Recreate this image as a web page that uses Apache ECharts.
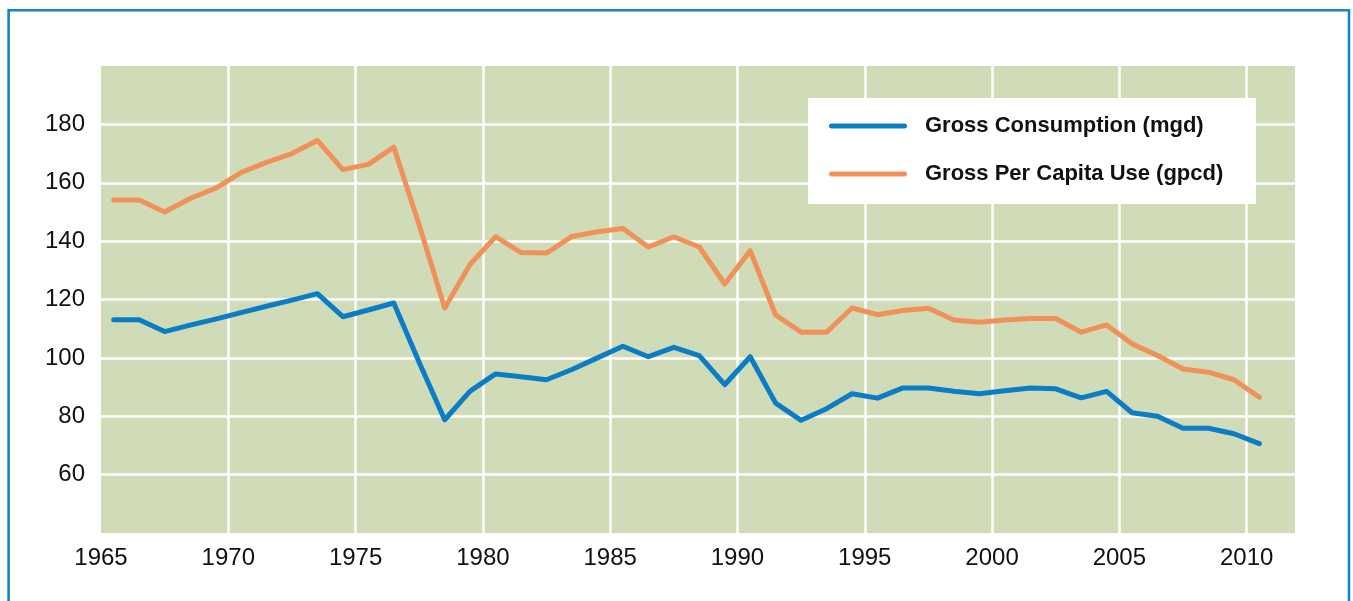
<!DOCTYPE html>
<html>
<head>
<meta charset="utf-8">
<script src="https://cdn.jsdelivr.net/npm/echarts@6/dist/echarts.min.js"></script>
<style>
  html, body { margin: 0; padding: 0; background: #fff; }
  #chart { width: 1353px; height: 601px; }
</style>
</head>
<body>
<div id="chart"></div>
<script>
// years of the records (each plotted at mid-year)
var years = [];
for (var y = 1965; y <= 2010; y++) years.push(y);

// Gross Consumption (mgd)
var consumption = [
  113.1, 113.1, 109.0, 111.2, 113.3, 115.5, 117.7, 119.8, 122.0, 114.1,
  116.4, 118.8, 98.4, 78.8, 88.6, 94.5, 93.5, 92.5, 96.0, 100.0,
  104.0, 100.4, 103.6, 100.8, 90.8, 100.4, 84.5, 78.6, 82.6, 87.7,
  86.2, 89.7, 89.7, 88.6, 87.7, 88.7, 89.7, 89.4, 86.3, 88.5,
  81.2, 80.0, 75.9, 75.9, 74.0, 70.6
];

// Gross Per Capita Use (gpcd)
var perCapita = [
  154.1, 154.1, 150.0, 154.6, 158.1, 163.5, 167.0, 170.0, 174.5, 164.5,
  166.3, 172.2, 145.5, 117.1, 132.1, 141.5, 136.1, 135.9, 141.6, 143.2,
  144.3, 138.0, 141.5, 138.0, 125.3, 136.7, 114.7, 108.8, 108.8, 117.1,
  114.8, 116.2, 117.0, 113.0, 112.2, 113.0, 113.5, 113.5, 108.8, 111.3,
  104.8, 100.8, 96.2, 95.1, 92.5, 86.5
];

var seriesNames = ['Gross Consumption (mgd)', 'Gross Per Capita Use (gpcd)'];
var seriesColors = ['#0b7dc4', '#f1915a'];

var yTicks = [60, 80, 100, 120, 140, 160, 180];

function toPairs(values) {
  return values.map(function (v, i) { return [years[i] + 0.5, v]; });
}

var font = '"Liberation Sans", Arial, sans-serif';

var chart = echarts.init(document.getElementById('chart'));

var option = {
  animation: false,
  backgroundColor: '#fff',
  textStyle: { fontFamily: font },
  grid: {
    left: 101, top: 66, right: 58, bottom: 68,
    show: true, backgroundColor: '#cfdcb7', borderWidth: 0
  },
  graphic: [
    {
      // outer blue frame
      type: 'rect', z: 10,
      shape: { x: 8.6, y: 10.2, width: 1340.4, height: 640 },
      style: { fill: 'none', stroke: '#1783c8', lineWidth: 2.6 }
    },
    {
      // legend box
      type: 'rect', z: 1,
      shape: { x: 808, y: 98, width: 448, height: 106 },
      style: { fill: '#ffffff' }
    }
  ],
  legend: {
    orient: 'vertical',
    left: 829, top: 114,
    padding: 0,
    icon: 'path://M2.5,0 L75.5,0 A2.5,2.5 0 0 1 75.5,5 L2.5,5 A2.5,2.5 0 0 1 2.5,0 Z',
    itemWidth: 78, itemHeight: 5,
    itemGap: 24,
    data: seriesNames,
    textStyle: {
      fontFamily: font, fontSize: 22, fontWeight: 'bold', color: '#111',
      lineHeight: 24, padding: [0, 0, 0, 13]
    }
  },
  xAxis: {
    type: 'value',
    min: 1965, max: 2011.9, interval: 5,
    axisLine: { show: false },
    axisTick: { show: false },
    axisLabel: {
      showMinLabel: true, showMaxLabel: false,
      margin: 13, fontSize: 24, color: '#111', fontFamily: font,
      formatter: function (v) { return v % 5 === 0 ? String(v) : ''; }
    },
    splitLine: {
      show: true, showMinLine: false, showMaxLine: false,
      lineStyle: { color: '#ffffff', width: 2.5 }
    }
  },
  yAxis: {
    type: 'value',
    min: 40, max: 200, interval: 20,
    axisLine: { show: false },
    axisTick: { show: false },
    axisLabel: {
      showMinLabel: false, showMaxLabel: false,
      margin: 16, fontSize: 24, color: '#111', fontFamily: font,
      formatter: function (v) { return yTicks.indexOf(v) >= 0 ? String(v) : ''; }
    },
    splitLine: {
      show: true, showMinLine: false, showMaxLine: false,
      lineStyle: { color: '#ffffff', width: 2.5 }
    }
  },
  series: [
    {
      name: seriesNames[0], type: 'line', symbol: 'none', z: 3,
      data: toPairs(consumption),
      color: seriesColors[0],
      lineStyle: { color: seriesColors[0], width: 5, cap: 'round', join: 'round' }
    },
    {
      name: seriesNames[1], type: 'line', symbol: 'none', z: 3,
      data: toPairs(perCapita),
      color: seriesColors[1],
      lineStyle: { color: seriesColors[1], width: 5, cap: 'round', join: 'round' }
    }
  ]
};

chart.setOption(option);
</script>
</body>
</html>
